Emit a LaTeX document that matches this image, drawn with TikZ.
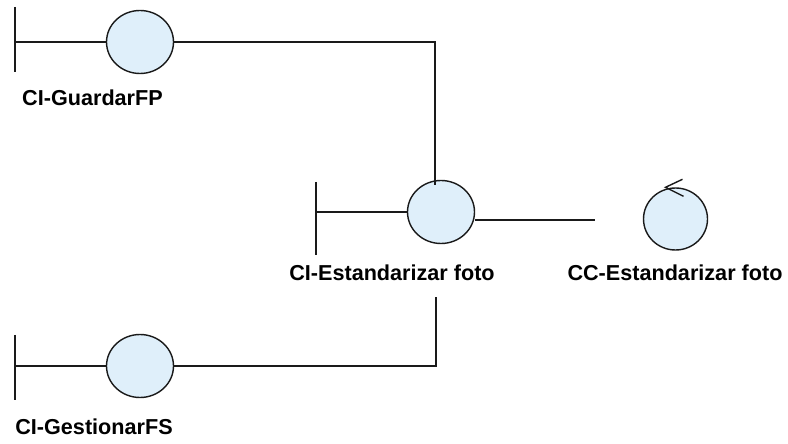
\documentclass[tikz,border=0pt]{standalone}
\usepackage{fontspec}
\setmainfont{Liberation Sans}
\usepackage{xcolor}
\definecolor{objfill}{HTML}{DFEFFA}
\definecolor{objline}{HTML}{1A1A1A}
\usepackage{tikz}
\usetikzlibrary{shapes.geometric, positioning, calc}

\tikzset{
  obj/.style={ellipse, draw=objline, fill=objfill, line width=0.8pt,
              minimum width=1.34cm, minimum height=1.26cm, inner sep=0pt},
  link/.style={draw=objline, line width=0.8pt},
  lbl/.style={font=\fontsize{12.3}{14}\selectfont\bfseries, inner sep=1pt}
}

\begin{document}
\begin{tikzpicture}
\useasboundingbox (0,0) rectangle (15.76,8.86);

% Boundary objects
\node[obj] (guardar) at (2.80,8.02) {};
\node[obj] (estandarizar) at (8.82,4.62) {};
\node[obj] (gestionar) at (2.80,1.54) {};

% Control object
\node[obj, minimum width=1.28cm, minimum height=1.24cm] (ctrl) at (13.51,4.48) {};

% Labels
\node[lbl] (guardarLbl) at (1.85,6.90) {CI-GuardarFP};
\node[lbl] (estLbl) at (7.84,3.40) {CI-Estandarizar foto};
\node[lbl] (ctrlLbl) at (13.50,3.40) {CC-Estandarizar foto};
\node[lbl] (gestLbl) at (1.88,0.32) {CI-GestionarFS};

% Boundary bars
\foreach \n/\x/\ya/\yb in {guardar/0.30/8.72/7.42, estandarizar/6.32/5.22/3.76, gestionar/0.30/2.16/0.86}{
  \draw[link] (\x,\ya) -- (\x,\yb);
  \draw[link] (\x,0 |- \n.west) -- (\n.west);
}

% Control arrow
\draw[link] ($(ctrl.north)+(0.14,0.16)$) -- ($(ctrl.north)+(-0.20,0)$)
  -- ($(ctrl.north)+(0.16,-0.18)$);

% Connectors
\coordinate (estTop) at (8.70,5.16);
\coordinate (estDown) at (8.72,2.92);
\coordinate (ctrlEnd) at (11.90,4.46);
\draw[link] (guardar.east) -| (estTop);
\draw[link] (gestionar.east) -| (estDown);
\draw[link] (estandarizar.east |- ctrlEnd) -- (ctrlEnd);
\end{tikzpicture}
\end{document}
